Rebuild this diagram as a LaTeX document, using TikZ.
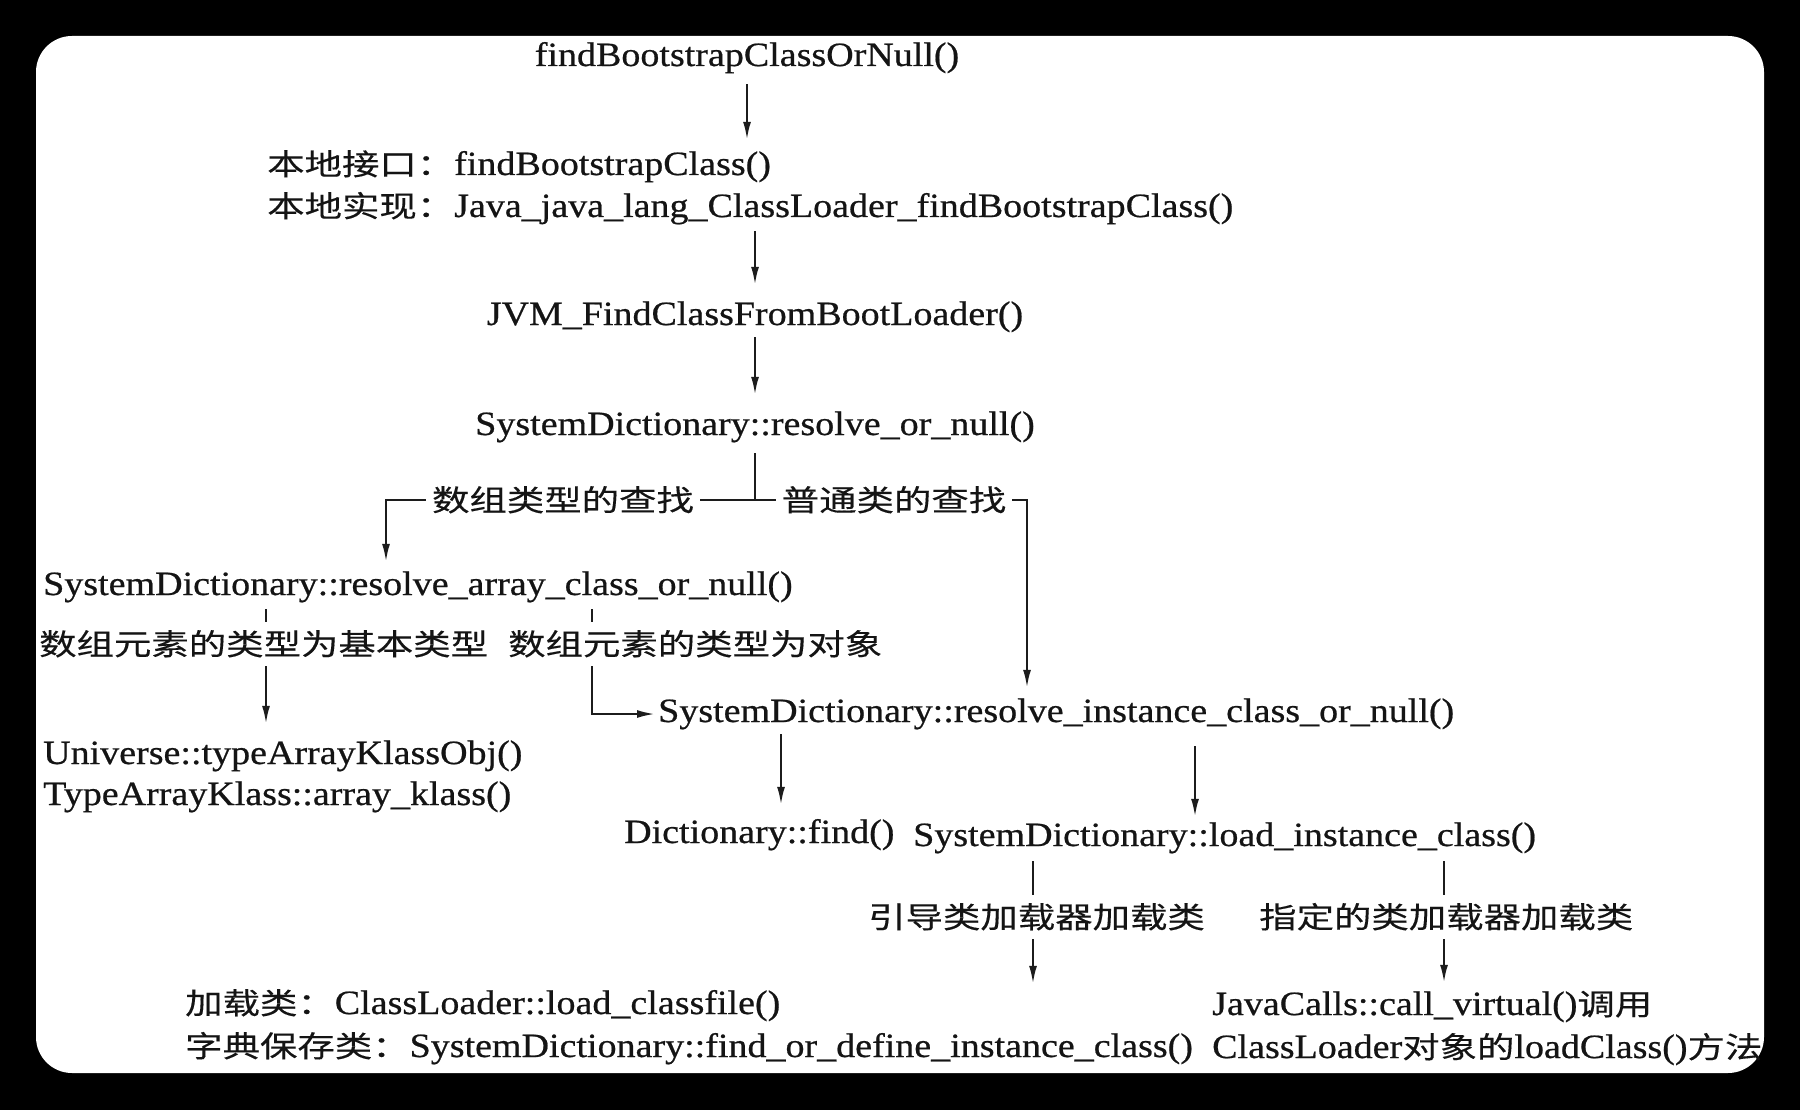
\documentclass[tikz,border=0pt]{standalone}
\usepackage{fontspec}
\setmainfont[FakeStretch=1.118,FakeBold=0.6]{Liberation Serif}
\newfontfamily\cjk[FakeStretch=1.266,Scale=0.869,FakeBold=0.3]{Noto Sans CJK SC}
\usetikzlibrary{arrows.meta}
\newcommand\zh[1]{{\cjk #1}}
\newcommand\mainsz{\fontsize{34pt}{40pt}\selectfont}
\definecolor{txt}{HTML}{141414}
\definecolor{lc}{HTML}{1c1c1c}
\tikzset{
  base/.style={inner sep=0pt, text height=22pt, text depth=6pt, font=\mainsz, text=txt},
  zhb/.style={inner xsep=6pt, inner ysep=8pt, text height=25pt, text depth=3pt, font=\mainsz, text=txt},
  zhl/.style={zhb, fill=white},
  ln/.style={draw=lc, line width=2.3pt},
  arr/.style={ln, -{Latex[length=18pt,width=8pt]}},
}
\begin{document}
\begin{tikzpicture}[x=1pt,y=-1pt]
\useasboundingbox (0,0) rectangle (1800,1110);
\fill[black] (0,0) rectangle (1800,1110);
\fill[white, rounded corners=36pt] (36,36) rectangle (1764,1073);

% main nodes
\node[base] (n1) at (747,58) {findBootstrapClassOrNull()};
\node[base,anchor=west] (nat1) at (267,167) {\zh{本地接口：}findBootstrapClass()};
\node[base,anchor=west] (nat2) at (267,209) {\zh{本地实现：}Java\_java\_lang\_ClassLoader\_findBootstrapClass()};
\node[base] (jvm) at (755,317) {JVM\_FindClassFromBootLoader()};
\node[base] (ron) at (755,427) {SystemDictionary::resolve\_or\_null()};
\node[base,anchor=west] (arr) at (43,587) {SystemDictionary::resolve\_array\_class\_or\_null()};
\node[base,anchor=west] (uni) at (43,756) {Universe::typeArrayKlassObj()};
\node[base,anchor=west] (tak) at (43,797) {TypeArrayKlass::array\_klass()};
\node[base,anchor=west] (rin) at (658,714) {SystemDictionary::resolve\_instance\_class\_or\_null()};
\node[base,anchor=west] (dict) at (624,835) {Dictionary::find()};
\node[base,anchor=west] (load) at (913,838) {SystemDictionary::load\_instance\_class()};
\node[base,anchor=west] (bl1) at (185,1006) {\zh{加载类：}ClassLoader::load\_classfile()};
\node[base,anchor=west] (bl2) at (185,1049) {\zh{字典保存类：}SystemDictionary::find\_or\_define\_instance\_class()};
\node[base,anchor=west] (jc1) at (1212,1007) {JavaCalls::call\_virtual()\zh{调用}};
\node[base,anchor=west] (jc2) at (1212,1050) {ClassLoader\zh{对象的}loadClass()\zh{方法}};

% branch labels that break their connectors
\node[zhb,anchor=west] (L1) at (33,644) {\zh{数组元素的类型为基本类型}};
\node[zhb,anchor=west] (L2) at (502,644) {\zh{数组元素的类型为对象}};
\node[zhb,anchor=west] (L3) at (862,917) {\zh{引导类加载器加载类}};
\node[zhb,anchor=west] (L4) at (1253,917) {\zh{指定的类加载器加载类}};

% helper coordinates
\coordinate (j) at (755,500);
\coordinate (jl) at (386,500);
\coordinate (jr) at (1027,500);
\coordinate (t1) at (266,0);
\coordinate (t2) at (592,0);
\coordinate (dx) at (781,0);
\coordinate (lx) at (1195,0);
\coordinate (b1) at (1033,0);
\coordinate (b2) at (1444,0);

% connectors
\draw[arr,shorten <=12pt,shorten >=13pt] (n1.south) -- (n1.south |- nat1.north);
\draw[arr,shorten <=8pt,shorten >=18pt] (jvm.north |- nat2.south) -- (jvm.north);
\draw[arr,shorten <=6pt,shorten >=18pt] (jvm.south) -- (ron.north);
\draw[ln,shorten <=12pt] (ron.south) -- (j);
\draw[arr,shorten >=11pt] (j) -- (jl) -- (jl |- arr.north);
\draw[arr,shorten >=12pt] (j) -- (jr) -- (jr |- rin.north);

\draw[ln,shorten <=8pt] (arr.south -| t1) -- (L1.north -| t1);
\draw[arr,shorten >=18pt] (L1.south -| t1) -- (uni.north -| t1);
\draw[ln,shorten <=8pt] (arr.south -| t2) -- (L2.north -| t2);
\draw[arr,shorten >=3pt] (L2.south -| t2) -- (t2 |- rin.west) -- (rin.west);

\draw[arr,shorten <=6pt,shorten >=16pt] (rin.south -| dx) -- (dict.north -| dx);
\draw[arr,shorten <=18pt,shorten >=7pt] (rin.south -| lx) -- (load.north -| lx);

\draw[ln,shorten <=9pt] (load.south -| b1) -- (L3.north -| b1);
\draw[arr,shorten >=8pt] (L3.south -| b1) -- (bl1.north -| b1);
\draw[ln,shorten <=9pt] (load.south -| b2) -- (L4.north -| b2);
\draw[arr,shorten >=10pt] (L4.south -| b2) -- (jc1.north -| b2);

% junction labels on top of the branch line
\node[zhl] (lab1) at (563,500) {\zh{数组类型的查找}};
\node[zhl] (lab2) at (894,500) {\zh{普通类的查找}};
\end{tikzpicture}
\end{document}
